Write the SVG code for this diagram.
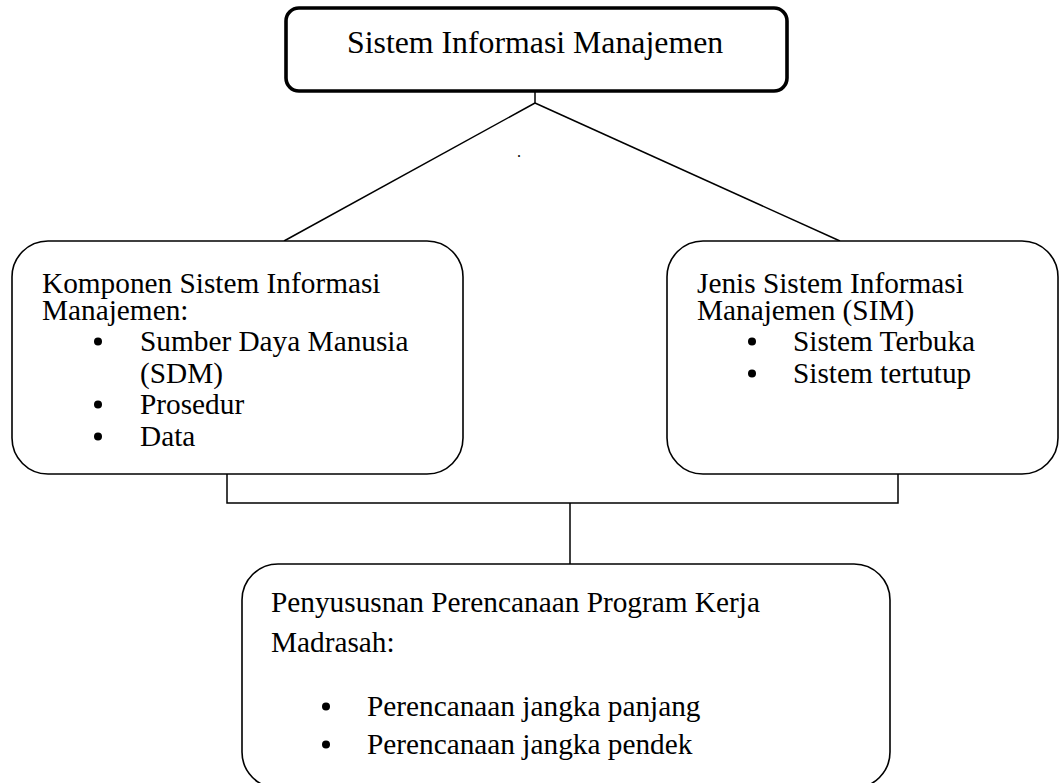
<svg xmlns="http://www.w3.org/2000/svg" width="1060" height="783" viewBox="0 0 1060 783">
<style>
  .box { fill: #ffffff; stroke: #000000; stroke-width: 1.6; }
  .top { fill: #ffffff; stroke: #000000; stroke-width: 3.6; }
  .conn { fill: none; stroke: #000000; stroke-width: 1.5; }
  .t, .title, .dot { font-family: 'Liberation Serif', 'DejaVu Serif', serif; fill: #000000; }
  .t { font-size: 29.3px; }
  .title { font-size: 31.8px; }
  .dot { font-size: 16px; }
  .bul { fill: #000000; }
</style>
<rect width="1060" height="783" fill="#ffffff"/>
<g id="connectors">
  <line class="conn" x1="535" y1="91" x2="535" y2="103"/>
  <line class="conn" x1="535" y1="103" x2="284" y2="241"/>
  <line class="conn" x1="535" y1="103" x2="840" y2="241"/>
  <polyline class="conn" points="227,474 227,503 898,503 898,474"/>
  <line class="conn" x1="570" y1="503" x2="570" y2="564"/>
</g>
<text class="dot" x="517" y="157">.</text>
<g id="node-sim">
  <rect class="top" x="286" y="8" width="501" height="83" rx="13" ry="13"/>
  <text class="title" x="347" y="53">Sistem Informasi Manajemen</text>
</g>
<g id="node-komponen">
  <rect class="box" x="12" y="241" width="451" height="233" rx="36" ry="36"/>
  <text class="t" x="42" y="293">Komponen Sistem Informasi</text>
  <text class="t" x="42" y="320">Manajemen:</text>
  <circle class="bul" cx="98" cy="341.5" r="4"/>
  <text class="t" x="140" y="351">Sumber Daya Manusia</text>
  <text class="t" x="140" y="383">(SDM)</text>
  <circle class="bul" cx="98" cy="404.5" r="4"/>
  <text class="t" x="140" y="414">Prosedur</text>
  <circle class="bul" cx="98" cy="436.5" r="4"/>
  <text class="t" x="140" y="446">Data</text>
</g>
<g id="node-jenis">
  <rect class="box" x="667" y="241" width="391" height="233" rx="36" ry="36"/>
  <text class="t" x="697" y="293">Jenis Sistem Informasi</text>
  <text class="t" x="697" y="320">Manajemen (SIM)</text>
  <circle class="bul" cx="752" cy="341.5" r="4"/>
  <text class="t" x="793" y="351">Sistem Terbuka</text>
  <circle class="bul" cx="752" cy="373.5" r="4"/>
  <text class="t" x="793" y="383">Sistem tertutup</text>
</g>
<g id="node-penyusunan">
  <rect class="box" x="242" y="564" width="648" height="224" rx="36" ry="36"/>
  <text class="t" x="271" y="612">Penyususnan Perencanaan Program Kerja</text>
  <text class="t" x="271" y="652">Madrasah:</text>
  <circle class="bul" cx="326" cy="706.5" r="4"/>
  <text class="t" x="367" y="716">Perencanaan jangka panjang</text>
  <circle class="bul" cx="326" cy="744.5" r="4"/>
  <text class="t" x="367" y="754">Perencanaan jangka pendek</text>
</g>
</svg>
